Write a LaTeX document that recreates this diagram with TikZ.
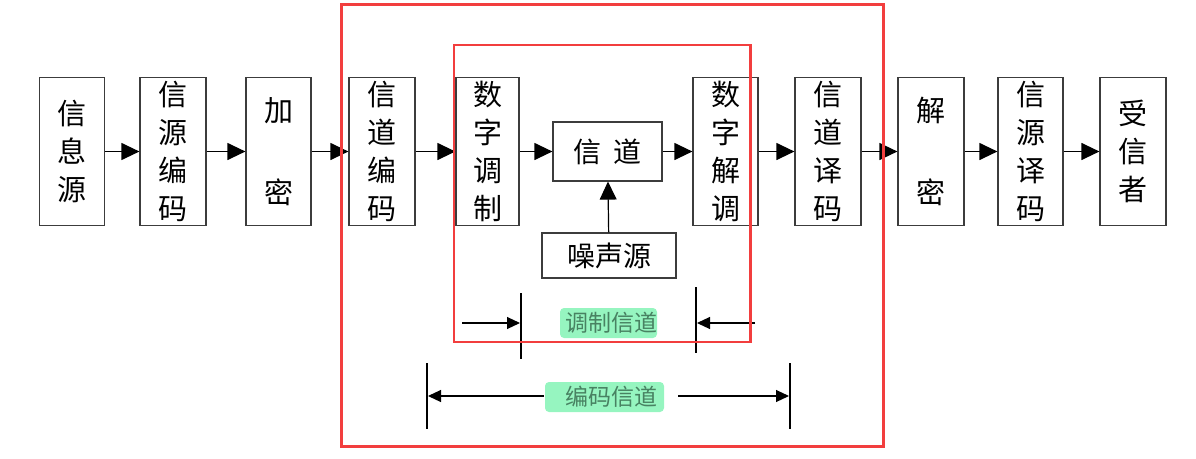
\documentclass[tikz,border=0pt]{standalone}
\usepackage{fontspec}
\setmainfont{Noto Sans CJK SC}
\usepackage{xcolor}
\definecolor{FrameRed}{RGB}{242,62,62}
\definecolor{TagFill}{RGB}{150,245,192}
\definecolor{TagInk}{RGB}{72,130,98}
\definecolor{BoxLine}{RGB}{60,60,60}
\usepackage{tikz}
\usetikzlibrary{arrows.meta}
\tikzstyle{Block}=[draw=BoxLine,line width=1.2pt,inner sep=0pt,
minimum width=65pt,minimum height=148pt,align=center,
font=\fontsize{29}{38}\selectfont]
\tikzstyle{Flow}=[draw=black,line width=1.2pt,
-{Triangle[length=18pt,width=17pt]}]
\tikzstyle{Span}=[draw=black,line width=1.1pt,
-{Triangle[length=13pt,width=12pt]}]
\tikzstyle{Tick}=[draw=black,line width=2pt]
\tikzstyle{Tag}=[fill=TagFill,rounded corners=4pt,inner sep=0pt,
minimum height=30pt,align=right,text=TagInk,
font=\fontsize{23}{23}\selectfont]
\tikzstyle{RedFrame}=[draw=FrameRed,line width=3pt]

\begin{document}
\begin{tikzpicture}[x=1pt,y=-1pt]
        \useasboundingbox (0,0) rectangle (1196,458);
        % chain of blocks
        \node[Block](src)at(72,151.5){信\\息\\源};
        \node[Block,minimum width=66pt](senc)at(173,151.5){信\\源\\编\\码};
        \node[Block](enc)at(278.5,151.5){加\\[44pt]密};
        \node[Block,minimum width=66pt](cenc)at(382,151.5){信\\道\\编\\码};
        \node[Block,minimum width=63pt](mod)at(487.5,151.5){数\\字\\调\\制};
        \node[Block,minimum width=109pt,minimum height=59pt,
                font=\fontsize{28}{28}\selectfont](chan)at(607.5,151.5)
                {信\hspace{0.45em}道};
        \node[Block,minimum width=134pt,minimum height=45pt,
                font=\fontsize{28}{28}\selectfont](noise)at(609,255.5)
                {噪声源};
        \node[Block](demod)at(725.5,151.5){数\\字\\解\\调};
        \node[Block,minimum width=66pt](cdec)at(828,151.5){信\\道\\译\\码};
        \node[Block,minimum width=66pt](dec)at(931,151.5){解\\[44pt]密};
        \node[Block](sdec)at(1030.5,151.5){信\\源\\译\\码};
        \node[Block,minimum width=66pt](sink)at(1133,151.5){受\\信\\者};
        \draw[Flow](src)--(senc);
        \draw[Flow](senc)--(enc);
        \draw[Flow](enc)--(cenc);
        \draw[Flow](cenc)--(mod);
        \draw[Flow](mod)--(chan);
        \draw[Flow](chan)--(demod);
        \draw[Flow](demod)--(cdec);
        \draw[Flow](cdec)--(dec);
        \draw[Flow](dec)--(sdec);
        \draw[Flow](sdec)--(sink);
        \draw[Flow](noise)--(chan);
        % spans below
        \node[Tag,text width=97pt](modtag)at(608.5,323){调制信道};
        \node[Tag,text width=105pt,inner xsep=7pt](codtag)at(604.5,397)
                {编码信道};
        \draw[Tick](521,293)--(521,359);
        \draw[Tick](696,287)--(696,353);
        \draw[Tick](427,363)--(427,429);
        \draw[Tick](790,363)--(790,429);
        \coordinate(modA)at(462,323);
        \coordinate(modB)at(520,323);
        \coordinate(modC)at(755,323);
        \coordinate(modD)at(697,323);
        \coordinate(codA)at(544,396);
        \coordinate(codB)at(428,396);
        \coordinate(codC)at(678,396);
        \coordinate(codD)at(789,396);
        \draw[Span](modA)--(modB);
        \draw[Span](modC)--(modD);
        \draw[Span](codA)--(codB);
        \draw[Span](codC)--(codD);
        % red frames
        \draw[RedFrame](341.5,4.5)rectangle(883,446);
        \draw[RedFrame,line width=2.2pt](454,45)rectangle(750.5,342);
    \end{tikzpicture}
\end{document}
